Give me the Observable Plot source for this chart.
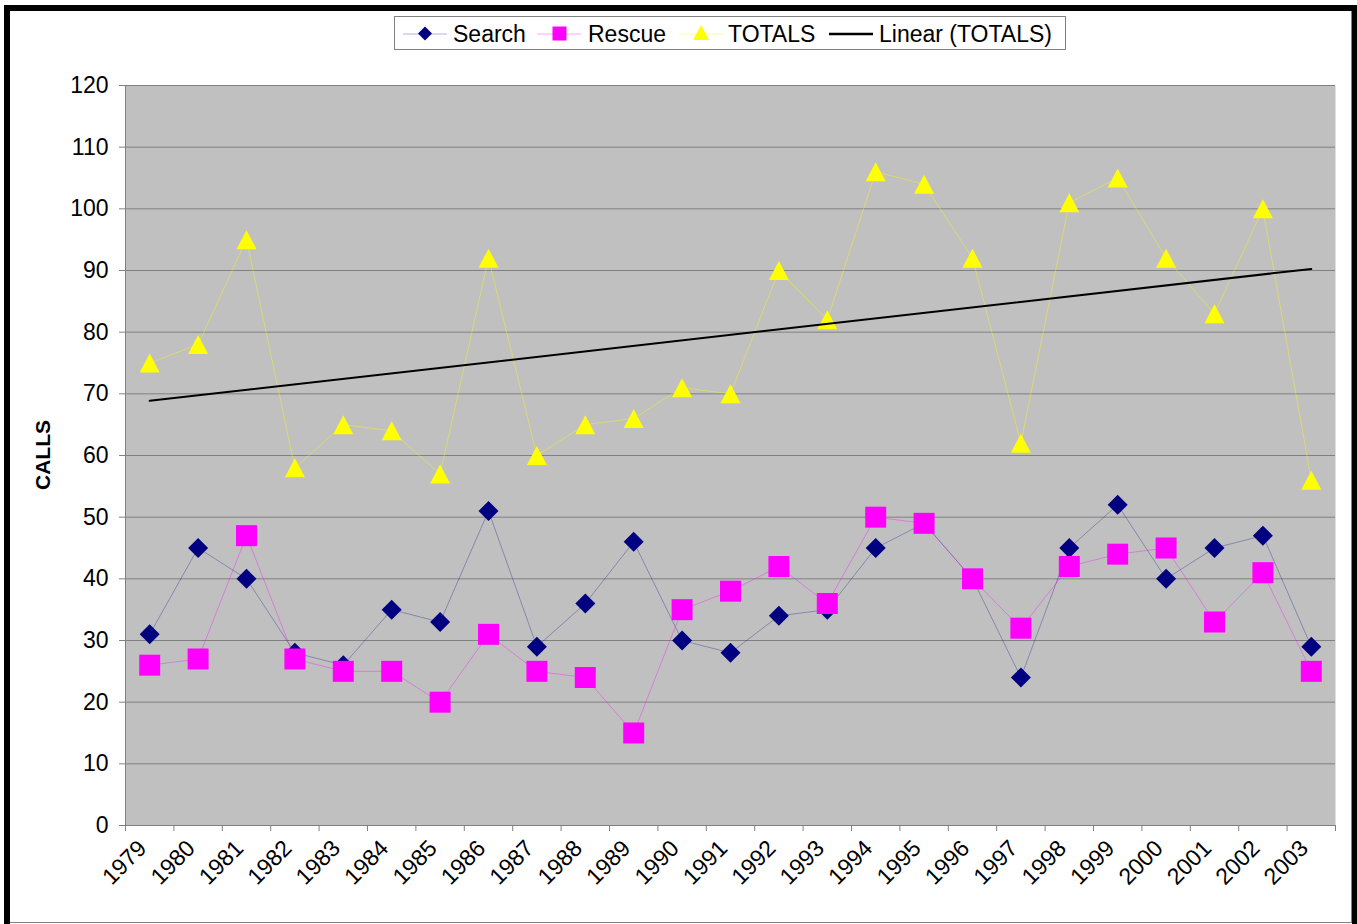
<!DOCTYPE html>
<html>
<head>
<meta charset="utf-8">
<script src="https://cdn.jsdelivr.net/npm/d3@7"></script>
<script src="https://cdn.jsdelivr.net/npm/@observablehq/plot@0.6"></script>
<style>
  html, body { margin: 0; padding: 0; background: #fff; }
  #page { position: relative; width: 1357px; height: 924px; overflow: hidden; font-family: "Liberation Sans", Arial, sans-serif; }
  #frame { position: absolute; left: 4px; top: 5px; width: 1342px; height: 940px; border-top: 6px solid #000; border-left: 6px solid #000; border-right: 5px solid #000; }
  #frameR { position: absolute; left: 1351px; top: 11px; width: 1px; height: 912px; background: #808080; }
  #frameB { position: absolute; left: 10px; top: 922px; width: 1342px; height: 1px; background: #808080; }
  #chart { position: absolute; left: 0; top: 0; }
  #legend { position: absolute; left: 394px; top: 16px; width: 670px; height: 32px; border: 1px solid #808080; background: #fff; }
  .sw { position: absolute; top: 0; }
  .lt { position: absolute; top: 3px; font-size: 23px; line-height: 28px; color: #000; white-space: nowrap; }
  #ylab { position: absolute; left: 43px; top: 455px; transform: translate(-50%, -50%) rotate(-90deg); font-weight: bold; font-size: 21px; white-space: nowrap; }
</style>
</head>
<body>
<div id="page">
  <div id="frame"></div>
  <div id="frameR"></div>
  <div id="frameB"></div>
  <div id="chart"></div>
  <div id="ylab">CALLS</div>
  <div id="legend"></div>
</div>
<script>
const years = [1979,1980,1981,1982,1983,1984,1985,1986,1987,1988,1989,1990,1991,1992,1993,1994,1995,1996,1997,1998,1999,2000,2001,2002,2003];
const search = [31,45,40,28,26,35,33,51,29,36,46,30,28,34,35,45,49,40,24,45,52,40,45,47,29];
const rescue = [26,27,47,27,25,25,20,31,25,24,15,35,38,42,36,50,49,40,32,42,44,45,33,41,25];
const totals = [75,78,95,58,65,64,57,92,60,65,66,71,70,90,82,106,104,92,62,101,105,92,83,100,56];
const yTicks = [0,10,20,30,40,50,60,70,80,90,100,110,120];
const seriesNames = ["Search", "Rescue", "TOTALS", "Linear (TOTALS)"];
const colors = { search: "#000080", rescue: "#FF00FF", totals: "#FFFF00", trend: "#000000" };

const rows = years.map((year, i) => ({ year, search: search[i], rescue: rescue[i], totals: totals[i] }));
const boundaries = years.map(y => y - 0.5).concat([years[years.length - 1] + 0.5]);

// Excel-like marker symbols (size = pi * r^2)
const diamondSym = { draw(ctx, size) { const r = Math.sqrt(size / Math.PI); ctx.moveTo(0, -r); ctx.lineTo(r, 0); ctx.lineTo(0, r); ctx.lineTo(-r, 0); ctx.closePath(); } };
const squareSym = { draw(ctx, size) { const r = Math.sqrt(size / Math.PI); ctx.rect(-r, -r, 2 * r, 2 * r); } };
const triangleSym = { draw(ctx, size) { const r = Math.sqrt(size / Math.PI); const h = r * 0.95; ctx.moveTo(0, -h); ctx.lineTo(r, h); ctx.lineTo(-r, h); ctx.closePath(); } };

const font = "'Liberation Sans', Arial, sans-serif";

const chart = Plot.plot({
  width: 1357,
  height: 924,
  marginLeft: 125,
  marginRight: 22,
  marginTop: 85,
  marginBottom: 99,
  style: { fontFamily: font, fontSize: "23px", background: "transparent", color: "#000", overflow: "visible" },
  x: { type: "linear", domain: [boundaries[0], boundaries[boundaries.length - 1]] },
  y: { domain: [0, 120] },
  marks: [
    Plot.frame({ fill: "#C0C0C0", stroke: null }),
    Plot.gridY(yTicks, { stroke: "#808080", strokeOpacity: 1, strokeWidth: 1 }),
    Plot.ruleX([boundaries[0]], { stroke: "#808080" }),
    Plot.ruleY([0], { stroke: "#808080" }),
    Plot.axisY(yTicks, { tickSize: 6, tickPadding: 11, stroke: "#808080", fill: "#000", label: null, fontSize: 23 }),
    Plot.axisX(boundaries, { tickSize: 6, tickFormat: () => "", stroke: "#808080", label: null }),
    Plot.axisX(years, { tickSize: 0, tickPadding: 19, tickRotate: -45, tickFormat: d => String(d), fill: "#000", label: null, fontSize: 23, dx: -7 }),
    Plot.line(rows, { x: "year", y: "search", stroke: colors.search, strokeOpacity: 0.3, strokeWidth: 1 }),
    Plot.dot(rows, { x: "year", y: "search", symbol: diamondSym, r: 10, fill: colors.search, stroke: null }),
    Plot.line(rows, { x: "year", y: "rescue", stroke: colors.rescue, strokeOpacity: 0.35, strokeWidth: 1 }),
    Plot.dot(rows, { x: "year", y: "rescue", symbol: squareSym, r: 10.5, fill: colors.rescue, stroke: null }),
    Plot.line(rows, { x: "year", y: "totals", stroke: colors.totals, strokeOpacity: 0.4, strokeWidth: 1 }),
    Plot.dot(rows, { x: "year", y: "totals", symbol: triangleSym, r: 10, fill: colors.totals, stroke: null }),
    Plot.linearRegressionY(rows, { x: "year", y: "totals", stroke: colors.trend, strokeWidth: 2, ci: 0 })
  ]
});
document.getElementById("chart").appendChild(chart);

// Legend
const legend = document.getElementById("legend");
const items = [
  { name: seriesNames[0], sx: 8, tx: 58, kind: "diamond", color: colors.search, line: colors.search, lineOp: 0.3 },
  { name: seriesNames[1], sx: 142, tx: 193, kind: "square", color: colors.rescue, line: colors.rescue, lineOp: 0.35 },
  { name: seriesNames[2], sx: 284, tx: 333, kind: "triangle", color: colors.totals, line: colors.totals, lineOp: 0.4 },
  { name: seriesNames[3], sx: 434, tx: 484, kind: "line", color: colors.trend, line: colors.trend, lineOp: 1 }
];
const ns = "http://www.w3.org/2000/svg";
for (const it of items) {
  const svg = document.createElementNS(ns, "svg");
  svg.setAttribute("width", 45); svg.setAttribute("height", 32);
  svg.setAttribute("class", "sw");
  svg.style.left = it.sx + "px";
  const ln = document.createElementNS(ns, "line");
  ln.setAttribute("x1", 0); ln.setAttribute("x2", 44); ln.setAttribute("y1", 17); ln.setAttribute("y2", 17);
  ln.setAttribute("stroke", it.line);
  ln.setAttribute("stroke-opacity", it.lineOp);
  ln.setAttribute("stroke-width", it.kind === "line" ? 2.5 : 1);
  svg.appendChild(ln);
  if (it.kind !== "line") {
    const p = document.createElementNS(ns, "path");
    let d;
    if (it.kind === "diamond") d = "M22,9.5L29,16.5L22,23.5L15,16.5Z";
    else if (it.kind === "square") d = "M15.5,9.5h14v14h-14Z";
    else d = "M22,8L30,23L14,23Z";
    p.setAttribute("d", d);
    p.setAttribute("fill", it.color);
    svg.appendChild(p);
  }
  legend.appendChild(svg);
  const t = document.createElement("div");
  t.className = "lt";
  t.style.left = it.tx + "px";
  t.textContent = it.name;
  legend.appendChild(t);
}
</script>
</body>
</html>
